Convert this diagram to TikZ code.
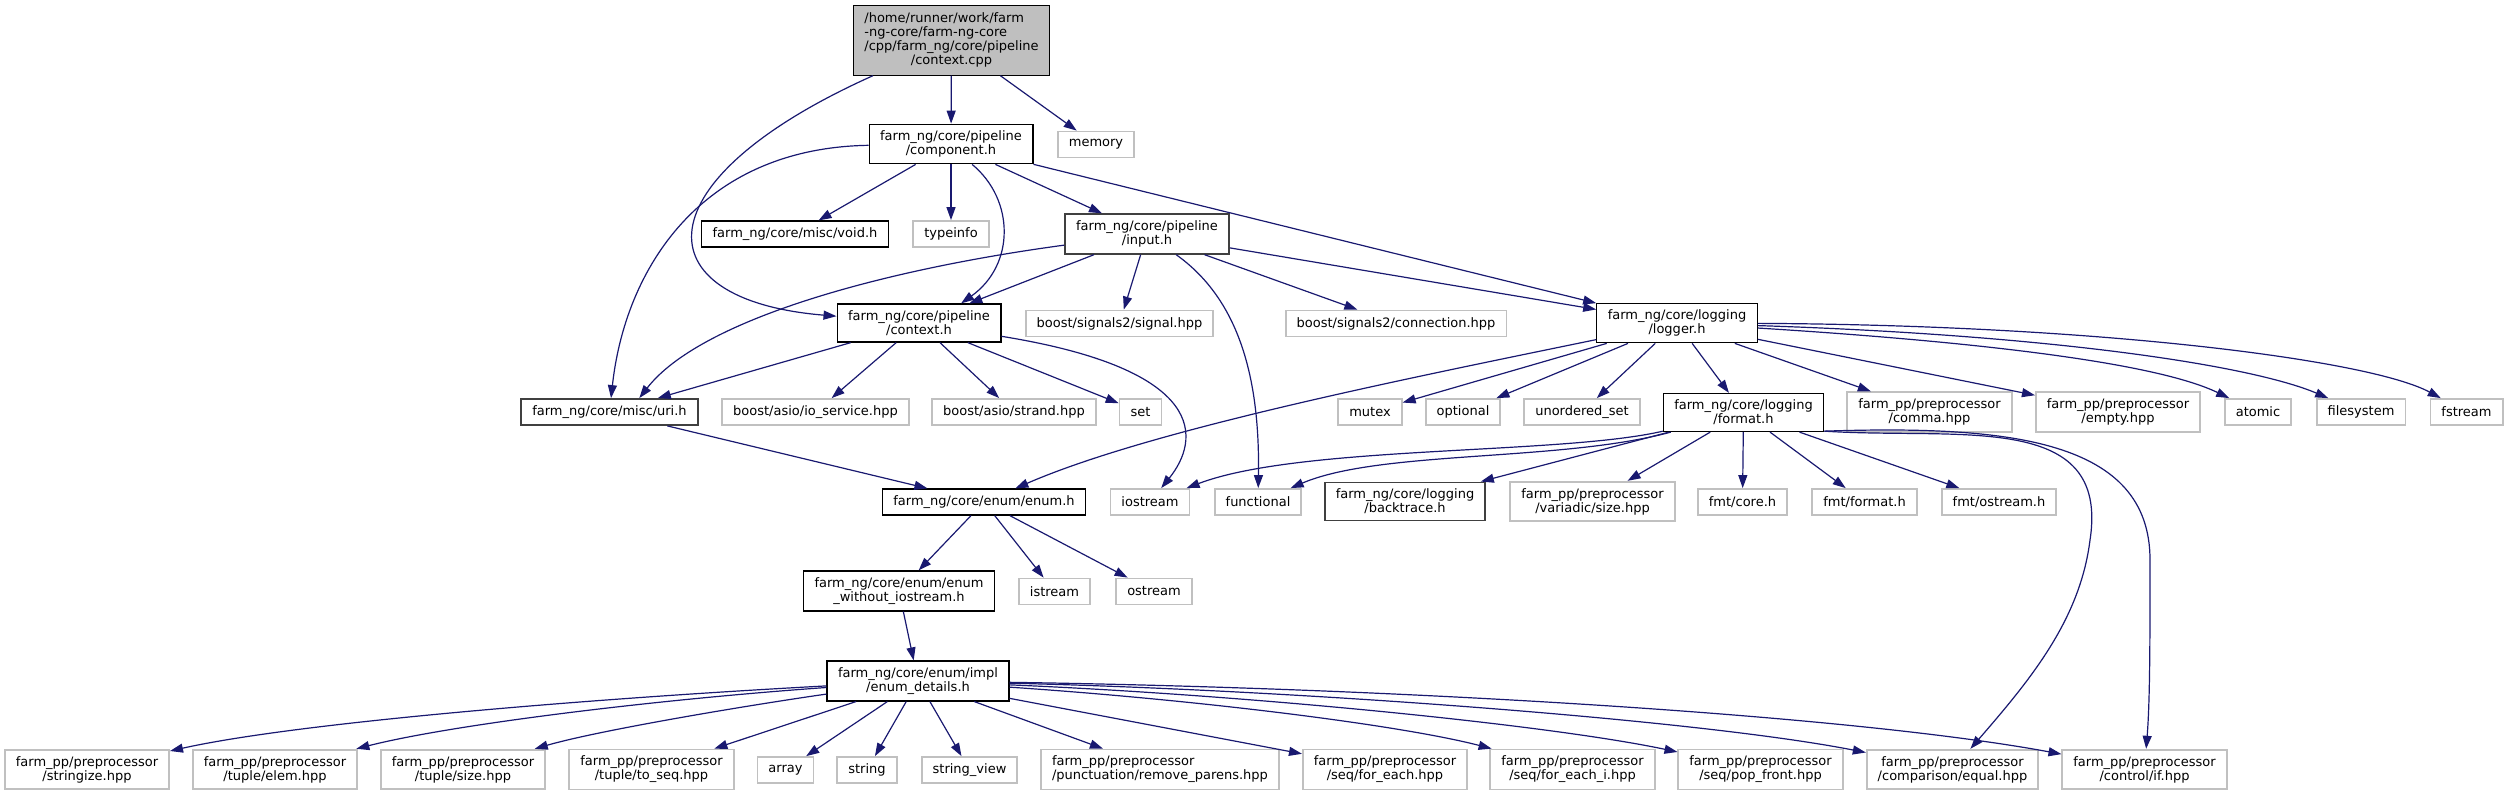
\documentclass[tikz,border=0pt]{standalone}
\usepackage{fontspec}
\setmainfont{DejaVu Sans}
\usepackage{xcolor}
\usetikzlibrary{arrows.meta}

\definecolor{edgeblue}{HTML}{191970}
\definecolor{extgray}{HTML}{C0C0C0}
\definecolor{rootgray}{HTML}{BFBFBF}

\tikzset{
  box/.style={rectangle, font=\fontsize{6.5}{7}\selectfont, inner xsep=5.5pt, inner ysep=3.25pt,
    minimum height=13pt, align=center, line width=0.6pt, fill=white},
  hdr/.style={box, draw=black},
  leaf/.style={box, draw=black!75, line width=0.9pt},
  ext/.style={box, draw=extgray, line width=0.9pt},
  root/.style={box, draw=black, fill=rootgray},
  edge/.style={draw=edgeblue, line width=0.6pt, -{Triangle[length=6.5pt,width=4.5pt]}},
}

\begin{document}
\begin{tikzpicture}[x=0.5pt, y=-0.5pt]
    \useasboundingbox (0,0) rectangle (2509,796);

    \node[root] (ctxcpp) at (951.5,40.5) {\begin{tabular}{@{}l@{}}/home/runner/work/farm\\-ng-core/farm-ng-core\\/cpp/farm\_ng/core/pipeline\\\multicolumn{1}{@{}c@{}}{/context.cpp}\end{tabular}};

    \node[hdr] (component) at (951,144) {farm\_ng/core/pipeline\\/component.h};
    \node[ext] (memory) at (1096,144.5) {memory};

    \node[hdr] (voidh) at (795,234) {farm\_ng/core/misc/void.h};
    \node[ext] (typeinfo) at (951,234) {typeinfo};
    \node[leaf] (input) at (1147,234) {farm\_ng/core/pipeline\\/input.h};

    \node[hdr] (ctxh) at (919,323) {farm\_ng/core/pipeline\\/context.h};
    \node[ext] (signal) at (1119.5,323.5) {boost/signals2/signal.hpp};
    \node[ext] (connection) at (1396,323.5) {boost/signals2/connection.hpp};
    \node[hdr] (logger) at (1677,323) {farm\_ng/core/logging\\/logger.h};

    \node[leaf] (uri) at (609.5,412) {farm\_ng/core/misc/uri.h};
    \node[ext] (ioservice) at (815.5,412) {boost/asio/io\_service.hpp};
    \node[ext] (strand) at (1014,412) {boost/asio/strand.hpp};
    \node[ext] (stdset) at (1140.5,412) {set};
    \node[ext] (mutex) at (1370,412) {mutex};
    \node[ext] (optional) at (1463,412) {optional};
    \node[ext] (uset) at (1582,412) {unordered\_set};
    \node[hdr] (format) at (1743.5,412.5) {farm\_ng/core/logging\\/format.h};
    \node[ext] (comma) at (1929.5,412) {farm\_pp/preprocessor\\/comma.hpp};
    \node[ext] (empty) at (2118,412) {farm\_pp/preprocessor\\/empty.hpp};
    \node[ext] (atomic) at (2258,412) {atomic};
    \node[ext] (filesystem) at (2361,412) {filesystem};
    \node[ext] (fstream) at (2466.5,412) {fstream};

    \node[hdr] (enumh) at (984,502) {farm\_ng/core/enum/enum.h};
    \node[ext] (iostream) at (1150,502) {iostream};
    \node[ext] (functional) at (1258,502) {functional};
    \node[leaf] (backtrace) at (1405,501.5) {farm\_ng/core/logging\\/backtrace.h};
    \node[ext] (vsize) at (1592.5,501.5) {farm\_pp/preprocessor\\/variadic/size.hpp};
    \node[ext] (fmtcore) at (1742.5,502) {fmt/core.h};
    \node[ext] (fmtformat) at (1864.5,502) {fmt/format.h};
    \node[ext] (fmtostream) at (1999,502) {fmt/ostream.h};

    \node[hdr] (enumwo) at (899,591) {farm\_ng/core/enum/enum\\\_without\_iostream.h};
    \node[ext] (istream) at (1054.5,591.5) {istream};
    \node[ext] (ostream) at (1154,591.5) {ostream};

    \node[hdr] (details) at (918,681) {farm\_ng/core/enum/impl\\/enum\_details.h};

    \node[ext] (stringize) at (87,769.5) {farm\_pp/preprocessor\\/stringize.hpp};
    \node[ext] (tupleelem) at (275,769.5) {farm\_pp/preprocessor\\/tuple/elem.hpp};
    \node[ext] (tuplesize) at (463,769.5) {farm\_pp/preprocessor\\/tuple/size.hpp};
    \node[ext] (toseq) at (651.5,769.5) {farm\_pp/preprocessor\\/tuple/to\_seq.hpp};
    \node[ext] (stdarray) at (785.5,770) {array};
    \node[ext] (stdstring) at (867,770) {string};
    \node[ext] (stringview) at (969.5,770) {string\_view};
    \node[ext, align=left] (removeparens) at (1160,769.5) {farm\_pp/preprocessor\\/punctuation/remove\_parens.hpp};
    \node[ext] (seqforeach) at (1385,769.5) {farm\_pp/preprocessor\\/seq/for\_each.hpp};
    \node[ext] (seqforeachi) at (1572.5,769.5) {farm\_pp/preprocessor\\/seq/for\_each\_i.hpp};
    \node[ext] (popfront) at (1760.5,769.5) {farm\_pp/preprocessor\\/seq/pop\_front.hpp};
    \node[ext] (equal) at (1952.5,769.5) {farm\_pp/preprocessor\\/comparison/equal.hpp};
    \node[ext] (controlif) at (2144.5,769.5) {farm\_pp/preprocessor\\/control/if.hpp};

    \draw[edge] (ctxcpp) -- (component);
    \draw[edge] (ctxcpp) -- (memory);
    \draw[edge] (ctxcpp) .. controls (640,180) and (640,300) .. (ctxh);

    \draw[edge] (component) .. controls (700,148) and (625,270) .. (uri);
    \draw[edge] (component) -- (voidh);
    \draw[edge] (component) -- (typeinfo);
    \draw[edge] (component.-44) .. controls (1015,200) and (1015,265) .. (ctxh.25);
    \draw[edge] (component) -- (input);
    \draw[edge] (component) -- (logger);

    \draw[edge] (input) -- (ctxh);
    \draw[edge] (input) .. controls (880,270) and (700,320) .. (uri.25);
    \draw[edge] (input) -- (signal);
    \draw[edge] (input) -- (connection);
    \draw[edge] (input) -- (logger);
    \draw[edge] (input) .. controls (1240,300) and (1260,380) .. (functional);

    \draw[edge] (ctxh) -- (uri);
    \draw[edge] (ctxh) -- (ioservice);
    \draw[edge] (ctxh) -- (strand);
    \draw[edge] (ctxh) -- (stdset);
    \draw[edge] (ctxh) .. controls (1210,370) and (1200,440) .. (iostream);

    \draw[edge] (logger) .. controls (1400,380) and (1150,430) .. (enumh);
    \draw[edge] (logger) -- (mutex);
    \draw[edge] (logger) -- (optional);
    \draw[edge] (logger) -- (uset);
    \draw[edge] (logger) -- (format);
    \draw[edge] (logger) -- (comma);
    \draw[edge] (logger) -- (empty);
    \draw[edge] (logger) .. controls (1950,340) and (2150,360) .. (atomic);
    \draw[edge] (logger) .. controls (2050,335) and (2250,365) .. (filesystem);
    \draw[edge] (logger) .. controls (2100,325) and (2370,360) .. (fstream);

    \draw[edge] (format) .. controls (1560,455) and (1300,445) .. (iostream);
    \draw[edge] (format) .. controls (1560,462) and (1380,450) .. (functional);
    \draw[edge] (format) -- (backtrace);
    \draw[edge] (format) -- (vsize);
    \draw[edge] (format) -- (fmtcore);
    \draw[edge] (format) -- (fmtformat);
    \draw[edge] (format) -- (fmtostream);
    \draw[edge] (format.-13) .. controls (1960,440) and (2110,410) .. (2090,540)
        .. controls (2080,620) and (2030,680) .. (equal);
    \draw[edge] (format.-13) .. controls (2010,425) and (2150,440) .. (2150,560)
        .. controls (2150,640) and (2150,700) .. (controlif);

    \draw[edge] (uri) -- (enumh);
    \draw[edge] (enumh) -- (enumwo);
    \draw[edge] (enumh) -- (istream);
    \draw[edge] (enumh) -- (ostream);
    \draw[edge] (enumwo) -- (details);

    \draw[edge] (details) .. controls (600,698) and (300,722) .. (stringize);
    \draw[edge] (details) .. controls (650,700) and (450,725) .. (tupleelem);
    \draw[edge] (details) .. controls (750,705) and (600,730) .. (tuplesize);
    \draw[edge] (details) -- (toseq);
    \draw[edge] (details) -- (stdarray);
    \draw[edge] (details) -- (stdstring);
    \draw[edge] (details) -- (stringview);
    \draw[edge] (details) -- (removeparens);
    \draw[edge] (details) -- (seqforeach);
    \draw[edge] (details) .. controls (1200,700) and (1400,725) .. (seqforeachi);
    \draw[edge] (details) .. controls (1250,695) and (1550,725) .. (popfront);
    \draw[edge] (details) .. controls (1300,690) and (1700,720) .. (equal);
    \draw[edge] (details) .. controls (1400,688) and (1850,715) .. (controlif);
\end{tikzpicture}
\end{document}
